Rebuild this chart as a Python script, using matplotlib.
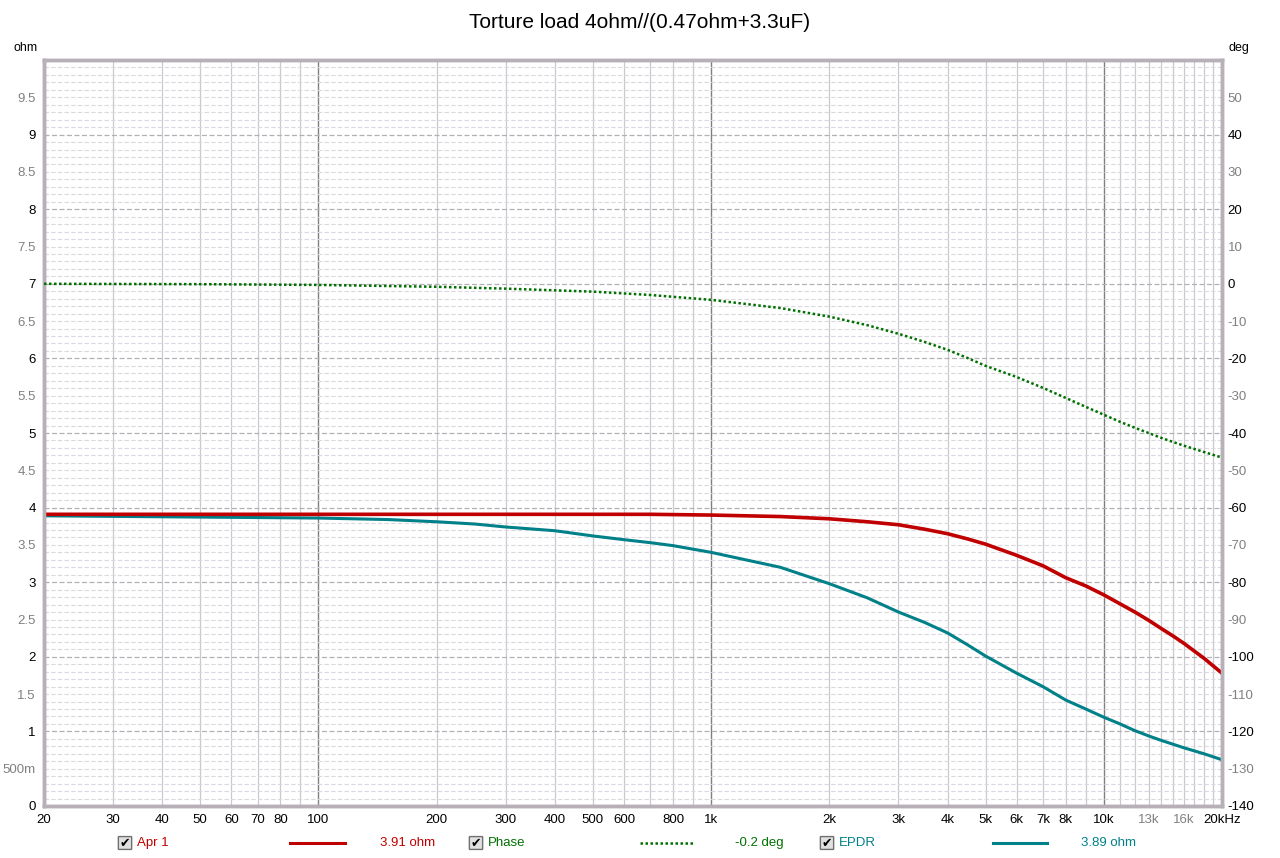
import matplotlib.pyplot as plt
from matplotlib.lines import Line2D
from matplotlib.patches import FancyBboxPatch

# data (frequency in Hz)
freq_z = [20, 100, 700, 1000, 1500, 2000, 2500, 3000, 3500, 4000, 4500, 5000, 6000, 7000,
          8000, 9000, 10000, 11000, 12000, 13000, 14000, 15000, 16000, 18000, 20000]
apr1_ohm = [3.91, 3.91, 3.91, 3.90, 3.88, 3.85, 3.81, 3.77, 3.71, 3.65, 3.58, 3.51, 3.36,
            3.22, 3.06, 2.95, 2.83, 2.71, 2.60, 2.49, 2.38, 2.28, 2.18, 1.98, 1.78]

freq_e = [20, 100, 150, 200, 250, 300, 400, 500, 600, 700, 800, 1000, 1500, 2000, 2500,
          3000, 3500, 4000, 4500, 5000, 6000, 7000, 8000, 9000, 10000, 11000, 12000, 13000,
          14000, 16000, 18000, 20000]
epdr_ohm = [3.89, 3.86, 3.84, 3.81, 3.78, 3.74, 3.69, 3.62, 3.57, 3.53, 3.49, 3.40, 3.20,
            2.98, 2.79, 2.60, 2.46, 2.32, 2.16, 2.01, 1.78, 1.60, 1.42, 1.30, 1.19, 1.10,
            1.01, 0.94, 0.88, 0.78, 0.70, 0.62]

freq_p = [20, 50, 100, 200, 300, 500, 700, 1000, 1500, 2000, 2500, 3000, 3500, 4000, 4500,
          5000, 6000, 7000, 8000, 9000, 10000, 11000, 12000, 13000, 14000, 15000, 16000,
          18000, 20000]
phase_deg = [0, -0.1, -0.3, -0.8, -1.3, -2.1, -3.0, -4.3, -6.5, -8.8, -11.1, -13.4, -15.6,
             -17.7, -19.9, -22, -25, -27.9, -30.6, -33, -35.1, -37, -38.6, -40, -41.3,
             -42.4, -43.4, -45.1, -46.6]

x_ticks = [20, 30, 40, 50, 60, 70, 80, 100, 200, 300, 400, 500, 600, 800,
           1000, 2000, 3000, 4000, 5000, 6000, 7000, 8000, 10000, 13000, 16000, 20000]
x_labels = ['20', '30', '40', '50', '60', '70', '80', '100', '200', '300', '400', '500', '600',
            '800', '1k', '2k', '3k', '4k', '5k', '6k', '7k', '8k', '10k', '13k', '16k', '20kHz']

plt.rcParams['font.family'] = ['Liberation Sans', 'DejaVu Sans']

RED = '#c00000'
GREEN = '#007000'
TEAL = '#008088'
DARK = '#000000'
GREY = '#808080'

fig = plt.figure(figsize=(12.8, 8.58), dpi=100)
ax = fig.add_axes([44 / 1280, 52 / 858, 1178 / 1280, 746 / 858])
ax.set_xscale('log')
ax.set_xlim(20, 20000)
ax.set_ylim(0, 10)

# grid
vlines = list(range(20, 100, 10)) + list(range(100, 1000, 100)) + \
    list(range(1000, 10000, 1000)) + list(range(10000, 20001, 1000))
for v in vlines:
    if v in (100, 1000, 10000):
        ax.axvline(v, color='#808080', lw=1.0, zorder=1)
    else:
        ax.axvline(v, color='#ccc8d0', lw=0.9, zorder=1)
for i in range(1, 100):
    y = i / 10
    if i % 10 == 0:
        ax.axhline(y, color='#b4b0b8', lw=0.9, ls=(0, (4, 2)), zorder=1)
    else:
        ax.axhline(y, color='#dcd8e0', lw=0.8, ls=(0, (4, 2)), zorder=1)

ax.plot(freq_z, apr1_ohm, color=RED, lw=2.6, zorder=4)
ax.plot(freq_e, epdr_ohm, color=TEAL, lw=2.2, zorder=3)

ax2 = ax.twinx()
ax2.set_ylim(-140, 60)
ax2.plot(freq_p, phase_deg, color=GREEN, lw=1.8, ls=(0, (1, 1)), zorder=3)

# ticks
ax.set_xticks(x_ticks)
ax.set_xticklabels(x_labels)
ax.xaxis.set_minor_locator(plt.NullLocator())
for lab, f in zip(ax.get_xticklabels(), x_ticks):
    lab.set_color(GREY if f in (13000, 16000) else DARK)
ax.tick_params(axis='x', length=0, pad=6, labelsize=9.5)

yt = [i / 2 for i in range(0, 20)]
ax.set_yticks(yt)
ax.set_yticklabels(['0', '500m'] + [('%g' % v) for v in yt[2:]])
for lab, v in zip(ax.get_yticklabels(), yt):
    lab.set_color(DARK if v == int(v) else GREY)
ax.tick_params(axis='y', length=0, pad=6, labelsize=9.5)

dt = list(range(-140, 60, 10))
ax2.set_yticks(dt)
ax2.set_yticklabels([str(d) for d in dt])
for lab, d in zip(ax2.get_yticklabels(), dt):
    lab.set_color(DARK if d % 20 == 0 else GREY)
ax2.tick_params(axis='y', length=0, pad=4, labelsize=9.5)

for a in (ax, ax2):
    for s in a.spines.values():
        s.set_color('#b8b0b8')
        s.set_linewidth(2.5)

fig.text(0.5, 1 - 22 / 858, 'Torture load 4ohm//(0.47ohm+3.3uF)', ha='center', va='center',
         fontsize=15)
fig.text(26 / 1280, 1 - 48 / 858, 'ohm', ha='center', va='center', fontsize=9)
fig.text(1239 / 1280, 1 - 48 / 858, 'deg', ha='center', va='center', fontsize=9)

# legend row
ly = 1 - 843 / 858


def checkbox(x):
    fig.patches.append(FancyBboxPatch((x / 1280, ly - 6 / 858), 12 / 1280, 12 / 858,
                                      boxstyle='round,pad=0.0005', transform=fig.transFigure,
                                      facecolor='#e0e0e0', edgecolor='#707070', lw=1))
    fig.text((x + 6) / 1280, ly, '\u2714', ha='center', va='center', fontsize=9,
             family=['DejaVu Sans'])


legend = [(119, 'Apr 1', RED, 290, 345, '-', 2.2, 380, '3.91 ohm'),
          (470, 'Phase', GREEN, 640, 693, (0, (1, 1)), 1.8, 735, '-0.2 deg'),
          (821, 'EPDR', TEAL, 993, 1047, '-', 2.2, 1081, '3.89 ohm')]
for cx, name, col, x0, x1, ls, lw, vx, val in legend:
    checkbox(cx)
    fig.text((cx + 18) / 1280, ly, name, color=col, ha='left', va='center', fontsize=9.5)
    fig.lines.append(Line2D([x0 / 1280, x1 / 1280], [ly, ly], transform=fig.transFigure,
                            color=col, lw=lw, ls=ls))
    fig.text(vx / 1280, ly, val, color=col, ha='left', va='center', fontsize=9.5)

fig.savefig('out.png', dpi=100)
